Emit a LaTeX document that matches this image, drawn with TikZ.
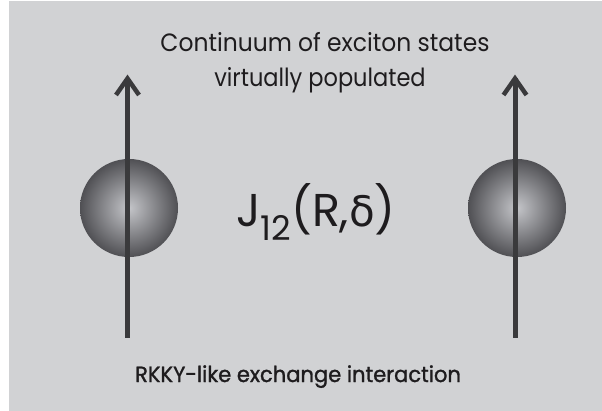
\documentclass[tikz,border=0pt]{standalone}
\usepackage{fontspec}
\setmainfont{Poppins}
\newfontfamily\medfont[FakeBold=1.3]{Poppins}
\newfontfamily\greekfont{DejaVu Sans}
\definecolor{bggray}{RGB}{209,210,212}
\definecolor{spinc}{RGB}{58,58,60}
\definecolor{ballin}{RGB}{196,197,201}
\definecolor{ballout}{RGB}{80,80,84}
\definecolor{txt}{RGB}{30,28,30}
\tikzset{
  spin/.style={draw=spinc, line width=5pt},
  barb/.style={draw=spinc, line width=4.5pt, miter limit=10},
  ball/.style={circle, minimum size=98pt, inner sep=0pt, shading=radial, inner color=ballin, outer color=ballout},
  lbl/.style={anchor=base, inner sep=0pt, text=txt}
}
\begin{document}
\begin{tikzpicture}[x=1pt,y=-1pt]
\useasboundingbox (0,0) rectangle (602,411);
\fill[white] (0,0) rectangle (602,411);
\fill[bggray] (9,1) rectangle (602,411);
\node[ball] (b1) at (129,208) {};
\node[ball] (b2) at (517,208) {};
\coordinate (s1a) at (127.5,338);
\coordinate (s1b) at (127.5,78.5);
\coordinate (s1l) at (116,95);
\coordinate (s1r) at (139,95);
\coordinate (s2a) at (515,338);
\coordinate (s2b) at (515,78.5);
\coordinate (s2l) at (503.5,95);
\coordinate (s2r) at (526.5,95);
\draw[spin] (s1a) -- (s1b);
\draw[barb] (s1l) -- (s1b) -- (s1r);
\draw[spin] (s2a) -- (s2b);
\draw[barb] (s2l) -- (s2b) -- (s2r);
\node[lbl, font=\fontsize{25}{30}\selectfont] (t1) at (325,52) {\scalebox{0.937}[1]{Continuum of exciton states}};
\node[lbl, font=\fontsize{25}{30}\selectfont] (t2) at (320,87) {\scalebox{0.90}[1]{virtually populated}};
\node[lbl, font=\fontsize{46}{50}\selectfont] (j) at (316,227) {J\raisebox{-0.3em}{\fontsize{34}{36}\selectfont 12}({R},{\greekfont\fontsize{42}{44}\selectfont δ})};
\node[lbl, font=\medfont\fontsize{22}{28}\selectfont] (t3) at (298,382) {\scalebox{0.957}[1]{RKKY-like exchange interaction}};
\end{tikzpicture}
\end{document}
